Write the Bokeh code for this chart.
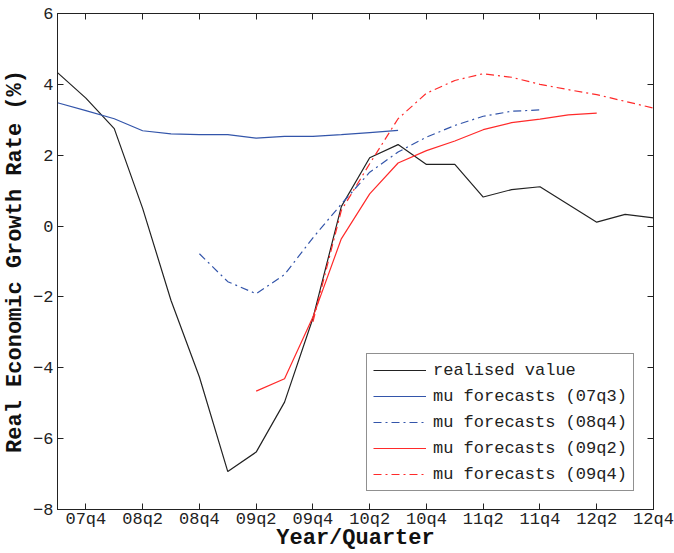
from bokeh.plotting import figure
from bokeh.models import (Range1d, FixedTicker, LinearAxis, Legend, LegendItem,
                          ColumnDataSource)
from bokeh.embed import file_html
from bokeh.resources import INLINE

# ---- data ----
quarters = ["07q3", "07q4", "08q1", "08q2", "08q3", "08q4", "09q1", "09q2",
            "09q3", "09q4", "10q1", "10q2", "10q3", "10q4", "11q1", "11q2",
            "11q3", "11q4", "12q1", "12q2", "12q3", "12q4"]
tick_labels = ["07q4", "08q2", "08q4", "09q2", "09q4", "10q2", "10q4",
               "11q2", "11q4", "12q2", "12q4"]

realised = [4.33, 3.61, 2.75, 0.50, -2.10, -4.26, -6.93, -6.38, -4.97, -2.60,
            0.55, 1.93, 2.30, 1.74, 1.74, 0.82, 1.03, 1.11, 0.61, 0.11, 0.33, 0.23]
fc_07q3_q = quarters[0:13]
fc_07q3 = [3.48, 3.26, 3.03, 2.69, 2.60, 2.58, 2.58, 2.48, 2.53, 2.53, 2.58, 2.64, 2.70]
fc_08q4_q = quarters[5:18]
fc_08q4 = [-0.78, -1.57, -1.91, -1.37, -0.33, 0.62, 1.52, 2.09, 2.51, 2.84, 3.10, 3.24, 3.28]
fc_09q2_q = quarters[7:20]
fc_09q2 = [-4.66, -4.31, -2.57, -0.36, 0.91, 1.78, 2.13, 2.40, 2.72, 2.92, 3.02, 3.14, 3.19]
fc_09q4_q = quarters[9:22]
fc_09q4 = [-2.70, 0.44, 1.76, 3.03, 3.75, 4.11, 4.30, 4.20, 4.00, 3.85, 3.71, 3.52, 3.33]

y_ticks = [-8, -6, -4, -2, 0, 2, 4, 6]

idx = {q: i for i, q in enumerate(quarters)}

FONT = "'Nimbus Mono PS', 'Courier New', Courier, 'Liberation Mono', monospace"
BLACK = "#222222"
BLUE = "#3355aa"
RED = "#ff2a2a"
DASHDOT = "8 4 2 4"

p = figure(width=674, height=553, output_backend="svg", toolbar_location=None,
           x_range=Range1d(0, len(quarters) - 1), y_range=Range1d(-8, 6),
           min_border_left=57, min_border_right=21, min_border_top=13,
           min_border_bottom=0)
p.grid.visible = False
p.outline_line_color = BLACK
p.outline_line_width = 1
p.background_fill_color = "white"
p.border_fill_color = "white"

tick_pos = [idx[t] for t in tick_labels]
overrides_x = {idx[t]: t for t in tick_labels}
overrides_y = {v: (("\u2212" + str(-v)) if v < 0 else str(v)) for v in y_ticks}


def style_axis(ax):
    ax.axis_line_color = BLACK
    ax.major_tick_line_color = BLACK
    ax.major_tick_in = 6
    ax.major_tick_out = 0
    ax.minor_tick_line_color = None
    ax.major_label_text_font = FONT
    ax.major_label_text_font_size = "17px"
    ax.major_label_text_color = "#222222"
    ax.axis_label_text_font = FONT
    ax.axis_label_text_font_size = "22px"
    ax.axis_label_text_font_style = "bold"
    ax.axis_label_text_color = "#111111"


xa = p.xaxis[0]
xa.ticker = FixedTicker(ticks=tick_pos)
xa.major_label_overrides = overrides_x
xa.axis_label = "Year/Quarter"
style_axis(xa)
xa.major_label_standoff = 0
xa.axis_label_standoff = -6

ya = p.yaxis[0]
ya.ticker = FixedTicker(ticks=y_ticks)
ya.major_label_overrides = overrides_y
ya.axis_label = "Real Economic Growth Rate (%)"
style_axis(ya)
ya.major_label_standoff = 4
ya.axis_label_standoff = 2

top = LinearAxis(ticker=FixedTicker(ticks=tick_pos))
right = LinearAxis(ticker=FixedTicker(ticks=y_ticks))
for ax in (top, right):
    style_axis(ax)
    ax.major_label_text_font_size = "0px"
    ax.major_label_text_color = None
    ax.major_label_standoff = 0
p.add_layout(top, "above")
p.add_layout(right, "right")


def src(qs, vals):
    return ColumnDataSource(dict(xs=[[idx[q] for q in qs]], ys=[list(vals)]))


r0 = p.multi_line("xs", "ys", source=src(quarters, realised), line_color=BLACK,
                  line_width=1.2)
r1 = p.multi_line("xs", "ys", source=src(fc_07q3_q, fc_07q3), line_color=BLUE,
                  line_width=1.2)
r2 = p.multi_line("xs", "ys", source=src(fc_08q4_q, fc_08q4), line_color=BLUE,
                  line_width=1.2, line_dash=DASHDOT)
r3 = p.multi_line("xs", "ys", source=src(fc_09q2_q, fc_09q2), line_color=RED,
                  line_width=1.2)
r4 = p.multi_line("xs", "ys", source=src(fc_09q4_q, fc_09q4), line_color=RED,
                  line_width=1.2, line_dash=DASHDOT)

legend = Legend(items=[
    LegendItem(label="realised value", renderers=[r0]),
    LegendItem(label="mu forecasts (07q3)", renderers=[r1]),
    LegendItem(label="mu forecasts (08q4)", renderers=[r2]),
    LegendItem(label="mu forecasts (09q2)", renderers=[r3]),
    LegendItem(label="mu forecasts (09q4)", renderers=[r4]),
], location=(309, 18))
legend.margin = 0
legend.padding = 6
legend.spacing = 6
legend.glyph_width = 53
legend.glyph_height = 20
legend.label_height = 20
legend.label_standoff = 7
legend.label_text_font = FONT
legend.label_text_font_size = "17px"
legend.label_text_color = "#222222"
legend.border_line_color = BLACK
legend.border_line_width = 1
legend.background_fill_alpha = 1
p.add_layout(legend)

open("out.html", "w").write(file_html(p, INLINE))
